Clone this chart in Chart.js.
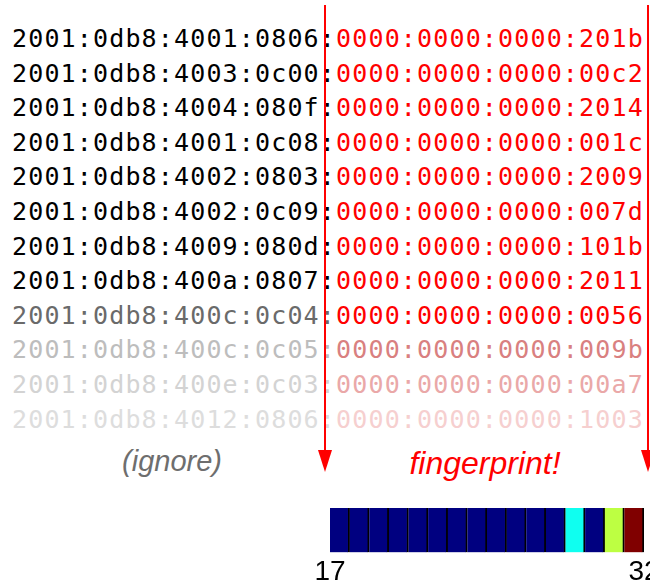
<!DOCTYPE html>
<html>
<head>
<meta charset="utf-8">
<script src="https://cdn.jsdelivr.net/npm/chart.js@4"></script>
<style>
  html, body { margin: 0; padding: 0; background: #fff; overflow: hidden; width: 650px; height: 586px; }
  #wrap { position: relative; width: 650px; height: 586px; overflow: hidden; }
  #strip { position: absolute; left: 0; top: 0; }
  #rows {
    position: absolute; left: 12px; top: 22px;
    font-family: "DejaVu Sans Mono", monospace; font-size: 25px;
    letter-spacing: 1.15px; line-height: 34.6px; white-space: pre;
  }
  .note { position: absolute; font-family: "Liberation Sans", Arial, sans-serif; font-style: italic; white-space: nowrap; transform: translateX(-50%); }
  #ignore { left: 172px; top: 445px; font-size: 29px; color: #6e6e6e; }
  #finger { left: 485px; top: 445px; font-size: 32px; color: #ff0000; }
  svg { position: absolute; left: 0; top: 0; }
</style>
</head>
<body>
<div id="wrap">
  <div id="rows"></div>
  <div class="note" id="ignore">(ignore)</div>
  <div class="note" id="finger">fingerprint!</div>
  <canvas id="strip"></canvas>
  <svg width="650" height="586">
    <line x1="325" y1="5" x2="325" y2="452" stroke="#ff0000" stroke-width="2"/>
    <polygon points="318,450 332,450 325,472" fill="#ff0000"/>
    <line x1="648" y1="5" x2="648" y2="452" stroke="#ff0000" stroke-width="2"/>
    <polygon points="641,450 655,450 648,472" fill="#ff0000"/>
  </svg>
</div>
<script>
// === DATA ===

const prefixes = [
  "2001:0db8:4001:0806:", "2001:0db8:4003:0c00:", "2001:0db8:4004:080f:",
  "2001:0db8:4001:0c08:", "2001:0db8:4002:0803:", "2001:0db8:4002:0c09:",
  "2001:0db8:4009:080d:", "2001:0db8:400a:0807:", "2001:0db8:400c:0c04:",
  "2001:0db8:400c:0c05:", "2001:0db8:400e:0c03:", "2001:0db8:4012:0806:"
];
const suffixes = [
  "0000:0000:0000:201b", "0000:0000:0000:00c2", "0000:0000:0000:2014",
  "0000:0000:0000:001c", "0000:0000:0000:2009", "0000:0000:0000:007d",
  "0000:0000:0000:101b", "0000:0000:0000:2011", "0000:0000:0000:0056",
  "0000:0000:0000:009b", "0000:0000:0000:00a7", "0000:0000:0000:1003"
];

// nibble positions 17..32 and their normalised entropy
const nibbles = ["17","18","19","20","21","22","23","24","25","26","27","28","29","30","31","32"];
const entropy = [0, 0, 0, 0, 0, 0, 0, 0, 0, 0, 0, 0, 0.39, 0, 0.56, 1];
const tickValues = [17, 32];

// === STYLE ===

const prefixColors = ["#000","#000","#000","#000","#000","#000","#000","#000","#6a6a6a","#bdbdbd","#d3d3d3","#dddddd"];
const suffixColors = ["#f00","#f00","#f00","#f00","#f00","#f00","#f00","#f00","#f00","#d98080","#eaa8a8","#f6cfcf"];

function jet(v) {
  const c = x => Math.round(255 * Math.max(0, Math.min(1, x)));
  return "rgb(" + c(1.5 - Math.abs(4 * v - 3)) + "," + c(1.5 - Math.abs(4 * v - 2)) + "," + c(1.5 - Math.abs(4 * v - 1)) + ")";
}

// === ROWS ===

const rowsEl = document.getElementById("rows");
rowsEl.innerHTML = prefixes.map((p, i) =>
  `<div><span style="color:${prefixColors[i]}">${p}</span><span style="color:${suffixColors[i]}">${suffixes[i]}</span></div>`
).join("");

// === STRIP ===

const canvas = document.getElementById("strip");
canvas.width = 700;
canvas.height = 592;
canvas.style.width = "700px";
canvas.style.height = "592px";

new Chart(canvas, {
  type: "bar",
  data: {
    labels: nibbles,
    datasets: [{
      data: entropy.map(() => 1),
      backgroundColor: entropy.map(jet),
      borderColor: "#000",
      borderWidth: { left: 0, top: 0, bottom: 0, right: 2 },
      borderSkipped: false,
      categoryPercentage: 1,
      barPercentage: 1
    }]
  },
  options: {
    responsive: false,
    animation: false,
    devicePixelRatio: 1,
    layout: { padding: { left: 330, right: 56, top: 508, bottom: 0 } },
    plugins: { legend: { display: false }, tooltip: { enabled: false } },
    scales: {
      x: { display: false },
      y: { display: false, min: 0, max: 1 },
      x2: {
        type: "linear",
        position: "bottom",
        offset: false,
        min: 17,
        max: 32,
        afterBuildTicks: scale => { scale.ticks = tickValues.map(v => ({ value: v })); },
        grid: { display: false, drawTicks: false, offset: false },
        border: { display: false },
        ticks: {
          padding: 3,
          color: "#000",
          maxRotation: 0,
          autoSkip: false,
          font: { family: "'Liberation Sans', Arial, sans-serif", size: 28 }
        }
      }
    }
  }
});
</script>
</body>
</html>
